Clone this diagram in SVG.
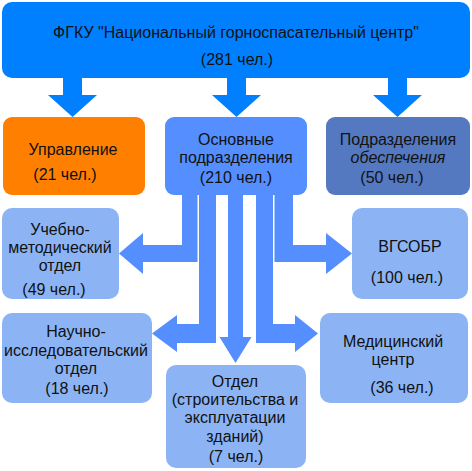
<svg xmlns="http://www.w3.org/2000/svg" width="472" height="471" viewBox="0 0 472 471">
<style>
text{font-family:"Liberation Sans",Arial,sans-serif;font-size:16px;fill:#111;text-anchor:middle}
.top{fill:#0080ff}
.org{fill:#ff8000}
.mid{fill:#558eff}
.dark{fill:#5479c0}
.light{fill:#8cb4f5}
.arr-top{fill:#0080ff}
.arr{fill:#558eff}
</style>
<rect width="472" height="471" fill="#fff"/>
<g id="connectors">
<polygon class="arr-top" points="63,76 82,76 82,95 97,95 72.5,117 48,95 63,95"/>
<polygon class="arr-top" points="227,76 246,76 246,95 261,95 236.5,117 212,95 227,95"/>
<polygon class="arr-top" points="388,76 407,76 407,95 422,95 397.5,117 373,95 388,95"/>
<polygon class="arr" points="182,193 197.5,193 197.5,262 143,262 143,274 119,253.5 143,233 143,245 182,245"/>
<polygon class="arr" points="199,193 216,193 216,343 177,343 177,352 152,333.5 177,315 177,324 199,324"/>
<polygon class="arr" points="228,193 243,193 243,337 251.5,337 235.5,363 219.5,337 228,337"/>
<polygon class="arr" points="256,193 273,193 273,324 295,324 295,315 318,333.5 295,352 295,343 256,343"/>
<polygon class="arr" points="274.5,193 293,193 293,245 326,245 326,233 352,253.5 326,274 326,262 274.5,262"/>
</g>
<g id="node-root">
<rect class="top" x="2" y="2" width="468" height="76" rx="10"/>
<text x="236" y="38">ФГКУ "Национальный горноспасательный центр"</text>
<text x="237" y="65">(281 чел.)</text>
</g>
<g id="node-upravlenie">
<rect class="org" x="3" y="117" width="142" height="78" rx="9"/>
<text x="73" y="155">Управление</text>
<text x="65" y="180">(21 чел.)</text>
</g>
<g id="node-osnovnye">
<rect class="mid" x="165" y="117" width="142" height="78" rx="9"/>
<text x="236" y="145">Основные</text>
<text x="236" y="163">подразделения</text>
<text x="236" y="183">(210 чел.)</text>
</g>
<g id="node-obespechenie">
<rect class="dark" x="326" y="117" width="144" height="78" rx="9"/>
<text x="398" y="145">Подразделения</text>
<text x="398" y="163" font-style="italic">обеспечения</text>
<text x="392" y="183">(50 чел.)</text>
</g>
<g id="node-uchebno">
<rect class="light" x="2" y="208" width="117" height="91" rx="10"/>
<text x="60" y="235">Учебно-</text>
<text x="60" y="253">методический</text>
<text x="60" y="271">отдел</text>
<text x="54" y="295">(49 чел.)</text>
</g>
<g id="node-vgsobr">
<rect class="light" x="352" y="208" width="116" height="91" rx="10"/>
<text x="410" y="252">ВГСОБР</text>
<text x="407" y="283">(100 чел.)</text>
</g>
<g id="node-nauchno">
<rect class="light" x="2" y="313" width="150" height="90" rx="10"/>
<text x="76" y="337">Научно-</text>
<text x="76" y="356">исследовательский</text>
<text x="76" y="374">отдел</text>
<text x="77" y="394">(18 чел.)</text>
</g>
<g id="node-otdel">
<rect class="light" x="166" y="365" width="140" height="103" rx="10"/>
<text x="235" y="387">Отдел</text>
<text x="235" y="405">(строительства и</text>
<text x="235" y="423">эксплуатации</text>
<text x="235" y="442">зданий)</text>
<text x="236" y="462">(7 чел.)</text>
</g>
<g id="node-medical">
<rect class="light" x="320" y="313" width="148" height="90" rx="10"/>
<text x="393" y="347">Медицинский</text>
<text x="393" y="365">центр</text>
<text x="402" y="393">(36 чел.)</text>
</g>
</svg>
